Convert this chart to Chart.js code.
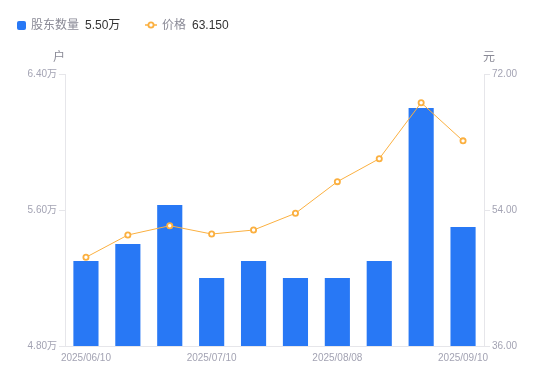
<!DOCTYPE html>
<html>
<head>
<meta charset="utf-8">
<script src="https://cdn.jsdelivr.net/npm/chart.js@4/dist/chart.umd.min.js"></script>
<style>
  html,body{margin:0;padding:0;background:#fff;}
  #wrap{position:relative;width:550px;height:381px;font-family:"Liberation Sans","Noto Sans CJK SC",sans-serif;}
  #legend{position:absolute;left:17px;top:17px;font-size:12px;line-height:16px;white-space:nowrap;}
  .item{position:absolute;top:0;}
  .lbl{color:#8a8a96;}
  .val{color:#333;margin-left:6px;}
  .sq{position:absolute;top:4px;width:9px;height:9px;border-radius:2px;background:#2878f5;}
  canvas{position:absolute;left:0;top:0;}
</style>
</head>
<body>
<div id="wrap">
  <canvas id="c" width="550" height="381"></canvas>
  <div id="legend">
    <div class="item" style="left:0"><span class="sq" style="left:0"></span><span style="margin-left:14px" class="lbl">股东数量</span><span class="val">5.50万</span></div>
    <div class="item" style="left:128px">
      <svg width="12" height="16" style="position:absolute;left:0;top:0"><line x1="0" y1="8" x2="12" y2="8" stroke="#fbb040" stroke-width="1.5"/><circle cx="6" cy="8" r="2.6" fill="#fff" stroke="#fbb040" stroke-width="1.8"/></svg>
      <span style="margin-left:17px" class="lbl">价格</span><span class="val">63.150</span>
    </div>
  </div>
</div>
<script>
const categories = ['2025/06/10','2025/06/20','2025/06/30','2025/07/10','2025/07/20','2025/07/31','2025/08/08','2025/08/20','2025/08/31','2025/09/10'];
const holders = [5.30, 5.40, 5.63, 5.20, 5.30, 5.20, 5.20, 5.30, 6.20, 5.50];
const prices = [47.74, 50.69, 51.92, 50.82, 51.35, 53.56, 57.75, 60.79, 68.20, 63.15];
const leftTicks = [4.80, 5.60, 6.40];
const rightTicks = [36, 54, 72];

const tickColor = '#a3a3b3';
const lineColor = '#e6e6ea';

const axisTitles = {
  id: 'axisTitles',
  afterDraw(chart) {
    const ctx = chart.ctx;
    const a = chart.chartArea;
    ctx.save();
    ctx.font = '12px "Liberation Sans","Noto Sans CJK SC",sans-serif';
    ctx.fillStyle = '#8a8a96';
    ctx.textAlign = 'center';
    ctx.textBaseline = 'middle';
    ctx.fillText('户', a.left - 6, a.top - 16);
    ctx.fillText('元', a.right + 5, a.top - 16);
    ctx.restore();
  }
};

new Chart(document.getElementById('c'), {
  type: 'bar',
  data: {
    labels: categories,
    datasets: [
      {
        type: 'line',
        label: '价格',
        data: prices,
        yAxisID: 'y1',
        borderColor: '#fbb040',
        borderWidth: 1,
        pointRadius: 2.6,
        pointBorderWidth: 1.8,
        pointBackgroundColor: '#fff',
        pointBorderColor: '#fbb040',
        tension: 0,
        order: 0
      },
      {
        type: 'bar',
        label: '股东数量',
        data: holders,
        yAxisID: 'y',
        backgroundColor: '#2878f5',
        categoryPercentage: 0.6,
        barPercentage: 1,
        order: 1
      }
    ]
  },
  options: {
    responsive: false,
    animation: false,
    devicePixelRatio: 1,
    layout: { padding: { top: 74, bottom: 0, left: 0, right: 0 } },
    plugins: { legend: { display: false }, tooltip: { enabled: false } },
    scales: {
      x: {
        grid: { display: false, drawTicks: false },
        border: { display: true, color: lineColor },
        ticks: {
          color: tickColor,
          font: { size: 10, family: '"Liberation Sans",sans-serif' },
          autoSkip: false,
          maxRotation: 0,
          padding: 6,
          callback: function(v, i) { return i % 3 === 0 ? categories[i] : ''; }
        },
        afterFit(s) { s.height = 35; }
      },
      y: {
        position: 'left',
        min: 4.8, max: 6.4,
        afterBuildTicks(s) { s.ticks = leftTicks.map(v => ({ value: v })); },
        grid: { drawOnChartArea: false, drawTicks: true, tickLength: 6, color: lineColor },
        border: { display: true, color: lineColor },
        ticks: {
          color: tickColor,
          font: { size: 10, family: '"Liberation Sans","Noto Sans CJK SC",sans-serif' },
          padding: 2,
          callback: v => v.toFixed(2) + '万'
        },
        afterFit(s) { s.width = 65; }
      },
      y1: {
        position: 'right',
        min: 36, max: 72,
        afterBuildTicks(s) { s.ticks = rightTicks.map(v => ({ value: v })); },
        grid: { drawOnChartArea: false, drawTicks: true, tickLength: 6, color: lineColor },
        border: { display: true, color: lineColor },
        ticks: {
          color: tickColor,
          font: { size: 10, family: '"Liberation Sans",sans-serif' },
          padding: 2,
          callback: v => v.toFixed(2)
        },
        afterFit(s) { s.width = 66; }
      }
    }
  },
  plugins: [axisTitles]
});
</script>
</body>
</html>
